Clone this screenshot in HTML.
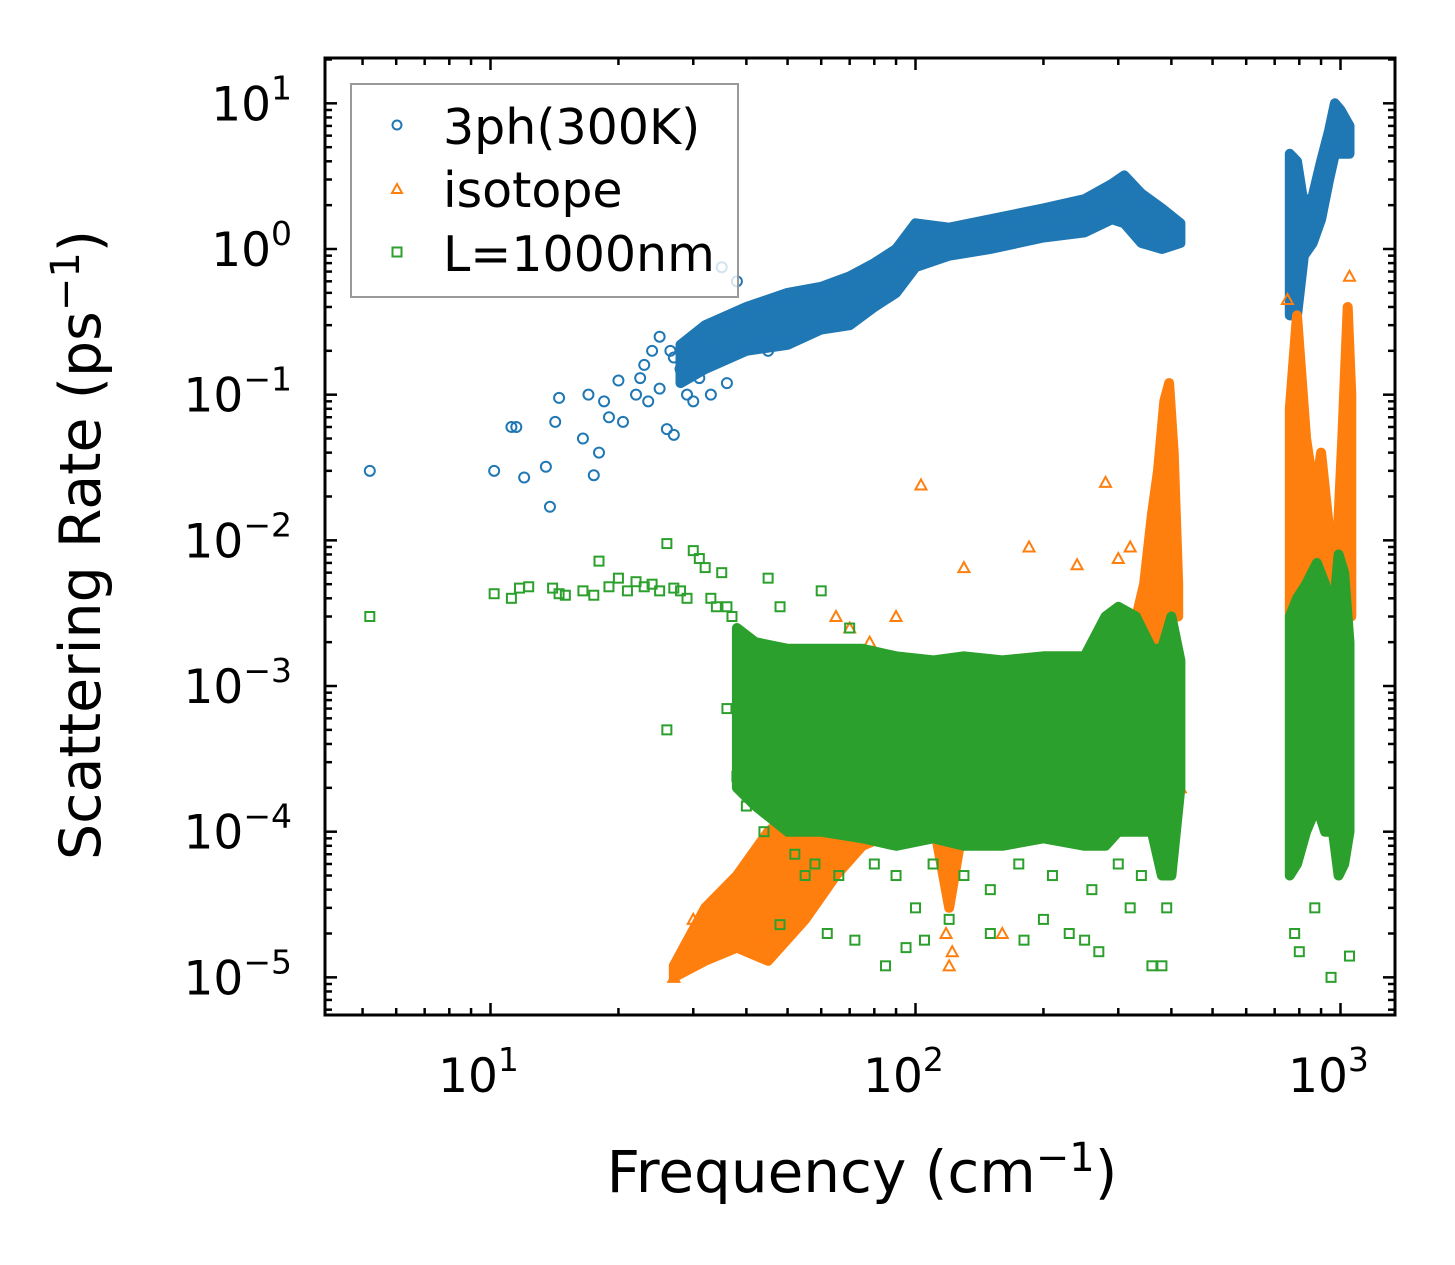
<!DOCTYPE html>
<html><head><meta charset="utf-8"><style>
html,body{margin:0;padding:0;background:#fff;}
svg{display:block;font-family:"DejaVu Sans","Liberation Sans",sans-serif;}
</style></head><body>
<svg id="chart" width="1455" height="1265" viewBox="0 0 1455 1265">
<g id="plot"></g>
<g id="axes"></g>
<text x="100" y="545" font-size="57" text-anchor="middle" transform="rotate(-90 100 545)">Scattering Rate (ps<tspan font-size="40" dy="-21">−1</tspan><tspan dy="21">)</tspan></text>
<text x="862" y="1192" font-size="58" text-anchor="middle">Frequency (cm<tspan font-size="40" dy="-21">−1</tspan><tspan dy="21">)</tspan></text>
<g>
<rect x="351" y="84" width="387" height="213" fill="#fff" fill-opacity="0.8" stroke="#999" stroke-width="2"/>
<circle cx="397" cy="125" r="4.5" fill="none" stroke="#1f77b4" stroke-width="2"/>
<text x="443" y="144" font-size="49">3ph(300K)</text>
<path d="M397,184 L402,193 L392,193 Z" fill="none" stroke="#ff7f0e" stroke-width="2"/>
<text x="443" y="207" font-size="49">isotope</text>
<rect x="392.5" y="247.5" width="9" height="9" fill="none" stroke="#2ca02c" stroke-width="2"/>
<text x="443" y="271" font-size="49">L=1000nm</text>
</g>
</svg>
<script>
// ---- data ----
const xTickValues = [10, 100, 1000];
const xTickLabels = ["1", "2", "3"];
const yTickValues = [10, 1, 0.1, 0.01, 0.001, 0.0001, 0.00001];
const yTickLabels = ["1", "0", "−1", "−2", "−3", "−4", "−5"];

const blueBandFreq = [28, 32, 40, 50, 60, 70, 80, 90, 100, 120, 150, 200, 250, 290, 310, 340, 380, 420];
const blueBandLow  = [0.12, 0.15, 0.2, 0.22, 0.28, 0.3, 0.4, 0.5, 0.75, 0.9, 1.0, 1.2, 1.3, 1.6, 1.5, 1.1, 1.0, 1.1];
const blueBandHigh = [0.22, 0.3, 0.4, 0.5, 0.55, 0.65, 0.8, 1.0, 1.5, 1.4, 1.6, 1.9, 2.2, 2.8, 3.2, 2.4, 1.9, 1.5];
const blueBand2Freq = [760, 790, 820, 860, 900, 940, 970, 1000, 1050];
const blueBand2Low  = [0.35, 0.35, 0.9, 1.1, 1.6, 3.0, 4.5, 4.5, 4.5];
const blueBand2High = [4.5, 4.0, 2.0, 2.3, 4.0, 6.5, 10, 9, 7];

const orangeBandFreq = [27, 32, 38, 45, 55, 65, 75, 90, 110, 120, 130];
const orangeBandLow  = [1e-5, 1.3e-5, 1.6e-5, 1.3e-5, 2.5e-5, 5e-5, 8e-5, 1e-4, 1.2e-4, 3e-5, 1.2e-4];
const orangeBandHigh = [1.2e-5, 3e-5, 5e-5, 1e-4, 1.6e-4, 2.5e-4, 4e-4, 5e-4, 5e-4, 5e-4, 5e-4];
const orangePeakFreq = [320, 345, 360, 372, 385, 395, 405, 415];
const orangePeakLow  = [1.5e-3, 2e-3, 3e-3, 1e-3, 1e-3, 3e-3, 3e-3, 3e-3];
const orangePeakHigh = [2e-3, 5e-3, 1.5e-2, 3e-2, 9e-2, 1.2e-1, 4e-2, 5e-3];
const orangeBand2Freq = [760, 790, 830, 870, 900, 940, 980, 1010, 1040, 1060];
const orangeBand2Low  = [3e-3, 3e-3, 5e-3, 1e-2, 5e-3, 3e-3, 3e-3, 5e-3, 5e-3, 3e-3];
const orangeBand2High = [0.08, 0.35, 0.05, 0.02, 0.04, 0.012, 0.008, 0.05, 0.4, 0.1];

const greenBandFreq = [38, 42, 50, 60, 75, 90, 110, 130, 160, 200, 250, 280, 300, 330, 360, 380, 400, 420];
const greenBandLow  = [2e-4, 1.5e-4, 1e-4, 1e-4, 9e-5, 8e-5, 9e-5, 8e-5, 8e-5, 9e-5, 8e-5, 8e-5, 1e-4, 1e-4, 1e-4, 5e-5, 5e-5, 2e-4];
const greenBandHigh = [2.5e-3, 2e-3, 1.8e-3, 1.8e-3, 1.8e-3, 1.6e-3, 1.5e-3, 1.6e-3, 1.5e-3, 1.6e-3, 1.6e-3, 3e-3, 3.5e-3, 3e-3, 1.8e-3, 1.8e-3, 3e-3, 1.5e-3];
const greenBand2Freq = [760, 790, 830, 880, 920, 960, 990, 1020, 1050];
const greenBand2Low  = [5e-5, 6e-5, 1e-4, 1.5e-4, 1e-4, 1e-4, 5e-5, 6e-5, 1e-4];
const greenBand2High = [3e-3, 4e-3, 5e-3, 7e-3, 5e-3, 3e-3, 8e-3, 6e-3, 2e-3];

const bluePtsFreq = [5.2, 10.2, 11.2, 11.5, 12, 13.5, 13.8, 14.2, 14.5, 16.5, 17, 17.5, 18, 18.5, 19, 20, 20.5, 22, 22.5, 23, 24, 25, 26, 27, 26.5, 28, 29, 30, 31, 32, 33, 35, 36, 38, 45, 25, 27, 23.5];
const bluePtsVal  = [0.03, 0.03, 0.06, 0.06, 0.027, 0.032, 0.017, 0.065, 0.095, 0.05, 0.1, 0.028, 0.04, 0.09, 0.07, 0.125, 0.065, 0.1, 0.13, 0.16, 0.2, 0.11, 0.058, 0.053, 0.2, 0.15, 0.1, 0.09, 0.13, 0.2, 0.1, 0.75, 0.12, 0.6, 0.2, 0.25, 0.18, 0.09];
const orangePtsFreq = [103, 185, 130, 280, 240, 320, 300, 78, 70, 65, 90, 48, 42, 36, 30, 27, 260, 225, 350, 400, 420, 120, 122, 118, 160, 750, 1050];
const orangePtsVal  = [0.024, 0.009, 0.0065, 0.025, 0.0068, 0.009, 0.0075, 0.002, 0.0025, 0.003, 0.003, 0.00002, 0.000018, 0.00002, 0.000025, 0.00001, 0.0012, 0.0015, 0.005, 0.0006, 0.0002, 0.000012, 0.000015, 0.00002, 0.00002, 0.45, 0.65];
const greenPtsFreq = [5.2, 10.2, 11.2, 11.7, 12.3, 14, 14.5, 15, 16.5, 17.5, 18, 19, 20, 21, 22, 23, 24, 25, 26, 27, 28, 29, 30, 31, 32, 33, 34, 35, 36, 37, 26, 36, 38, 45, 48, 55, 62, 72, 85, 95, 105, 120, 150, 180, 200, 230, 250, 270, 320, 360, 380, 200, 160, 140, 70, 60, 48, 100, 240, 780, 800, 950, 1050, 870, 40, 44, 52, 58, 66, 80, 90, 110, 130, 150, 175, 210, 260, 300, 340, 390];
const greenPtsVal  = [0.003, 0.0043, 0.004, 0.0047, 0.0048, 0.0047, 0.0043, 0.0042, 0.0045, 0.0042, 0.0072, 0.0048, 0.0055, 0.0045, 0.0052, 0.0048, 0.005, 0.0045, 0.0095, 0.0047, 0.0045, 0.004, 0.0085, 0.0075, 0.0065, 0.004, 0.0035, 0.006, 0.0035, 0.003, 0.0005, 0.0007, 0.00024, 0.0055, 0.0035, 0.00005, 0.00002, 0.000018, 0.000012, 0.000016, 0.000018, 0.000025, 0.00002, 0.000018, 0.000025, 0.00002, 0.000018, 0.000015, 0.00003, 0.000012, 0.000012, 0.0004, 0.0011, 0.0015, 0.0025, 0.0045, 0.000023, 0.00003, 0.0006, 0.00002, 0.000015, 0.00001, 0.000014, 0.00003, 0.00015, 0.0001, 0.00007, 0.00006, 0.00005, 0.00006, 0.00005, 0.00006, 0.00005, 0.00004, 0.00006, 0.00005, 0.00004, 0.00006, 0.00005, 0.00003];

// ---- axis functions ----
const L = 325, R = 1395, T = 58, B = 1015;
const X10 = 490.5, XDEC = 425;
const Y1 = 249, YDEC = 145.67;
function sx(f) { return X10 + (Math.log10(f) - 1) * XDEC; }
function sy(v) { return Y1 - Math.log10(v) * YDEC; }

const NS = "http://www.w3.org/2000/svg";
const plot = document.getElementById('plot');
const axes = document.getElementById('axes');
function mk(tag, attrs, parent) {
  const e = document.createElementNS(NS, tag);
  for (const k in attrs) e.setAttribute(k, attrs[k]);
  parent.appendChild(e);
  return e;
}

const clip = mk('clipPath', {id: 'clipA'}, plot);
mk('rect', {x: L, y: T, width: R - L, height: B - T}, clip);
const g = mk('g', {'clip-path': 'url(#clipA)'}, plot);

function band(fr, lo, hi, color, name) {
  let pts = [];
  for (let i = 0; i < fr.length; i++) pts.push(sx(fr[i]).toFixed(1) + ',' + sy(hi[i]).toFixed(1));
  for (let i = fr.length - 1; i >= 0; i--) pts.push(sx(fr[i]).toFixed(1) + ',' + sy(lo[i]).toFixed(1));
  const p = mk('polygon', {points: pts.join(' '), fill: color, stroke: color, 'stroke-width': 10, 'stroke-linejoin': 'round'}, g);
  
  
}
function marker(kind, f, v, color, name) {
  const x = sx(f), y = sy(v);
  let e;
  if (kind === 'circle') e = mk('circle', {cx: x, cy: y, r: 5, fill: 'none', stroke: color, 'stroke-width': 2}, g);
  else if (kind === 'tri') e = mk('path', {d: `M${x},${y-5.5} L${x+5.5},${y+4.5} L${x-5.5},${y+4.5} Z`, fill: 'none', stroke: color, 'stroke-width': 2}, g);
  else e = mk('rect', {x: x - 4.5, y: y - 4.5, width: 9, height: 9, fill: 'none', stroke: color, 'stroke-width': 2}, g);
  
  
}

const BLUE = '#1f77b4', ORANGE = '#ff7f0e', GREEN = '#2ca02c';
band(blueBandFreq, blueBandLow, blueBandHigh, BLUE, 'band-3ph-low-freq');
band(blueBand2Freq, blueBand2Low, blueBand2High, BLUE, 'band-3ph-high-freq');
for (let i = 0; i < bluePtsFreq.length; i++) marker('circle', bluePtsFreq[i], bluePtsVal[i], BLUE, 'point-3ph');
band(orangeBandFreq, orangeBandLow, orangeBandHigh, ORANGE, 'band-isotope-low-freq');
band(orangePeakFreq, orangePeakLow, orangePeakHigh, ORANGE, 'band-isotope-peak');
band(orangeBand2Freq, orangeBand2Low, orangeBand2High, ORANGE, 'band-isotope-high-freq');
for (let i = 0; i < orangePtsFreq.length; i++) marker('tri', orangePtsFreq[i], orangePtsVal[i], ORANGE, 'point-isotope');
band(greenBandFreq, greenBandLow, greenBandHigh, GREEN, 'band-boundary-mid-freq');
band(greenBand2Freq, greenBand2Low, greenBand2High, GREEN, 'band-boundary-high-freq');
for (let i = 0; i < greenPtsFreq.length; i++) marker('sq', greenPtsFreq[i], greenPtsVal[i], GREEN, 'point-boundary');

function line(x1, y1, x2, y2, w, name) {
  const e = mk('line', {x1, y1, x2, y2, stroke: '#000', 'stroke-width': w}, axes);
  
  
}
for (let d = 0; d <= 3; d++) {
  for (let m = 1; m <= 9; m++) {
    const f = m * Math.pow(10, d);
    const x = sx(f);
    if (x < L || x > R) continue;
    const len = m === 1 ? 12 : 7;
    line(x, B, x, B - len, 2.5, 'x-tick');
    line(x, T, x, T + len, 2.5, 'x-tick-top');
  }
}
for (let d = -6; d <= 1; d++) {
  for (let m = 1; m <= 9; m++) {
    const v = m * Math.pow(10, d);
    const y = sy(v);
    if (y < T || y > B) continue;
    const len = m === 1 ? 12 : 7;
    line(L, y, L + len, y, 2.5, 'y-tick');
    line(R, y, R - len, y, 2.5, 'y-tick-right');
  }
}
for (let i = 0; i < xTickValues.length; i++) {
  const t = mk('text', {x: sx(xTickValues[i]) - 12, y: 1092, 'font-size': 47, 'text-anchor': 'middle'}, axes);
  
  
  t.innerHTML = '10<tspan font-size="33" dy="-21">' + xTickLabels[i] + '</tspan>';
}
for (let i = 0; i < yTickValues.length; i++) {
  const t = mk('text', {x: 292, y: sy(yTickValues[i]) + 17, 'font-size': 47, 'text-anchor': 'end'}, axes);
  
  
  t.innerHTML = '10<tspan font-size="33" dy="-21">' + yTickLabels[i] + '</tspan>';
}
const frame = mk('rect', {x: L, y: T, width: R - L, height: B - T, fill: 'none', stroke: '#000', 'stroke-width': 3}, axes);


</script>
</body></html>
